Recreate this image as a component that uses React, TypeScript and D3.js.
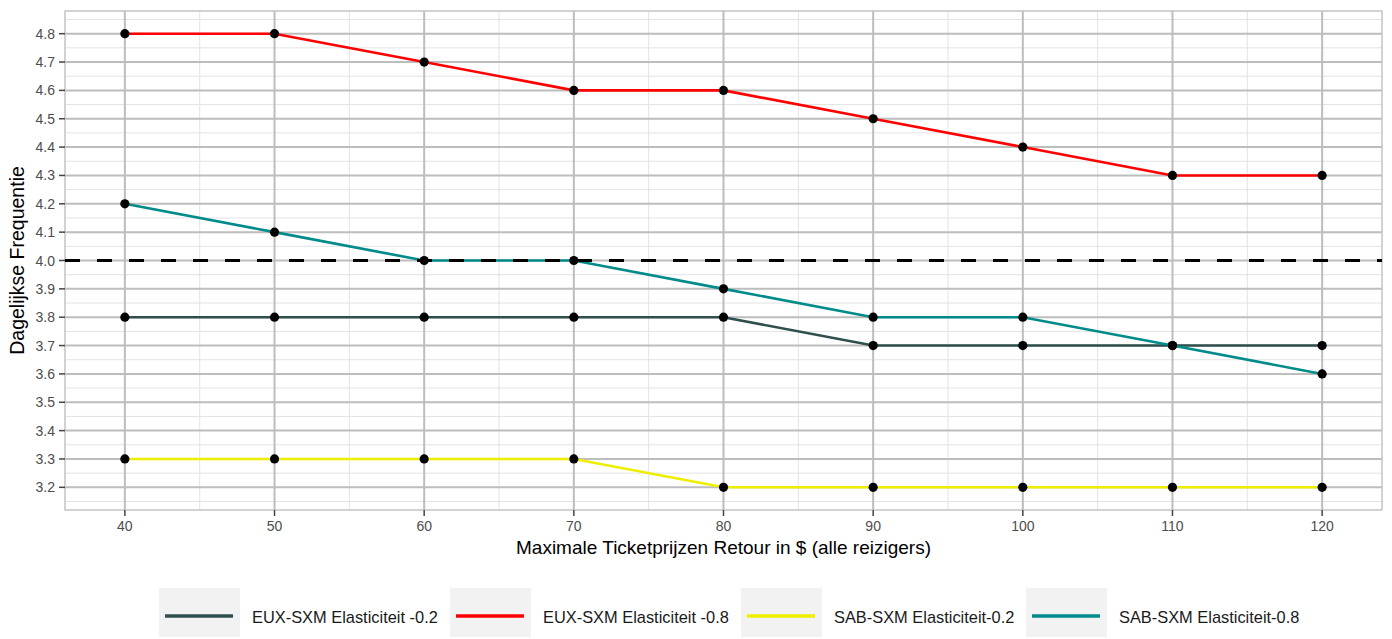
import React from 'react';
import * as d3 from 'd3';

// ticket prices (x) and the four series
const prices = [40, 50, 60, 70, 80, 90, 100, 110, 120];
const euxLow = [3.8, 3.8, 3.8, 3.8, 3.8, 3.7, 3.7, 3.7, 3.7];
const euxHigh = [4.8, 4.8, 4.7, 4.6, 4.6, 4.5, 4.4, 4.3, 4.3];
const sabLow = [3.3, 3.3, 3.3, 3.3, 3.2, 3.2, 3.2, 3.2, 3.2];
const sabHigh = [4.2, 4.1, 4.0, 4.0, 3.9, 3.8, 3.8, 3.7, 3.6];

const seriesNames = [
  'EUX-SXM Elasticiteit -0.2',
  'EUX-SXM Elasticiteit -0.8',
  'SAB-SXM Elasticiteit-0.2',
  'SAB-SXM Elasticiteit-0.8',
];
const seriesColors = ['#2f4f4f', '#ff0000', '#eeee00', '#008b8b'];
const seriesValues = [euxLow, euxHigh, sabLow, sabHigh];

const yTicks = [3.2, 3.3, 3.4, 3.5, 3.6, 3.7, 3.8, 3.9, 4.0, 4.1, 4.2, 4.3, 4.4, 4.5, 4.6, 4.7, 4.8];
const yMinor = [3.15, 3.25, 3.35, 3.45, 3.55, 3.65, 3.75, 3.85, 3.95, 4.05, 4.15, 4.25, 4.35, 4.45, 4.55, 4.65, 4.75, 4.85];
const xMinor = [45, 55, 65, 75, 85, 95, 105, 115];
const threshold = 4.0;

const W = 1392;
const H = 639;
const panel = { left: 65, right: 1382, top: 11, bottom: 510 };

const App: React.FC = () => {
  const x = d3.scaleLinear().domain([36, 124]).range([panel.left, panel.right]);
  const y = d3.scaleLinear().domain([3.12, 4.88]).range([panel.bottom, panel.top]);

  const line = d3.line<number>()
    .x((_, i) => x(prices[i]))
    .y(d => y(d));

  const legendBoxes = [159, 450, 741, 1026];
  const font = 'Liberation Sans, Arial, sans-serif';

  return (
    <div style={{ position: 'absolute', left: 0, top: 0 }}>
      <svg width={W} height={H} style={{ display: 'block', background: '#fff' }} fontFamily={font}>
        {/* minor grid */}
        {yMinor.map(v => (
          <line key={'ym' + v} x1={panel.left} x2={panel.right} y1={y(v)} y2={y(v)} stroke="#e3e3e3" strokeWidth={1} />
        ))}
        {xMinor.map(v => (
          <line key={'xm' + v} x1={x(v)} x2={x(v)} y1={panel.top} y2={panel.bottom} stroke="#e3e3e3" strokeWidth={1} />
        ))}
        {/* major grid */}
        {yTicks.map(v => (
          <line key={'yg' + v} x1={panel.left} x2={panel.right} y1={y(v)} y2={y(v)} stroke="#bdbdbd" strokeWidth={2} />
        ))}
        {prices.map(v => (
          <line key={'xg' + v} x1={x(v)} x2={x(v)} y1={panel.top} y2={panel.bottom} stroke="#bdbdbd" strokeWidth={2} />
        ))}
        <rect x={panel.left} y={panel.top} width={panel.right - panel.left} height={panel.bottom - panel.top}
          fill="none" stroke="#c4c4c4" strokeWidth={1.5} />

        {/* series lines */}
        {seriesValues.map((vals, i) => (
          <path key={'l' + i} d={line(vals) || ''} fill="none" stroke={seriesColors[i]} strokeWidth={2.6} />
        ))}
        {/* points */}
        {seriesValues.map((vals, i) =>
          vals.map((v, j) => (
            <circle key={'p' + i + '-' + j} cx={x(prices[j])} cy={y(v)} r={4.6} fill="#000" />
          ))
        )}
        {/* reference line */}
        <line x1={panel.left} x2={panel.right} y1={y(threshold)} y2={y(threshold)}
          stroke="#000" strokeWidth={3} strokeDasharray="15,17" />

        {/* y axis */}
        {yTicks.map(v => (
          <g key={'yt' + v}>
            <line x1={panel.left - 6} x2={panel.left} y1={y(v)} y2={y(v)} stroke="#444" strokeWidth={1.5} />
            <text x={panel.left - 10} y={y(v)} dy="0.36em" textAnchor="end" fontSize={14} fill="#4d4d4d">
              {v.toFixed(1)}
            </text>
          </g>
        ))}
        {/* x axis */}
        {prices.map(v => (
          <g key={'xt' + v}>
            <line x1={x(v)} x2={x(v)} y1={panel.bottom} y2={panel.bottom + 6} stroke="#444" strokeWidth={1.5} />
            <text x={x(v)} y={panel.bottom + 21} textAnchor="middle" fontSize={14} fill="#4d4d4d">
              {v}
            </text>
          </g>
        ))}
        <text x={(panel.left + panel.right) / 2} y={554} textAnchor="middle" fontSize={19} fill="#000">
          Maximale Ticketprijzen Retour in $ (alle reizigers)
        </text>
        <text transform={`translate(24,${(panel.top + panel.bottom) / 2}) rotate(-90)`} textAnchor="middle"
          fontSize={19.5} fill="#000">
          Dagelijkse Frequentie
        </text>

        {/* legend */}
        {seriesNames.map((name, i) => (
          <g key={'lg' + i} transform={`translate(${legendBoxes[i]},588)`}>
            <rect x={0} y={0} width={81} height={49} fill="#f2f2f2" />
            <line x1={6} x2={74} y1={28} y2={28} stroke={seriesColors[i]} strokeWidth={3.5} />
            <text x={93} y={35} fontSize={16.4} fill="#1a1a1a">{name}</text>
          </g>
        ))}
      </svg>
    </div>
  );
};

export default App;
